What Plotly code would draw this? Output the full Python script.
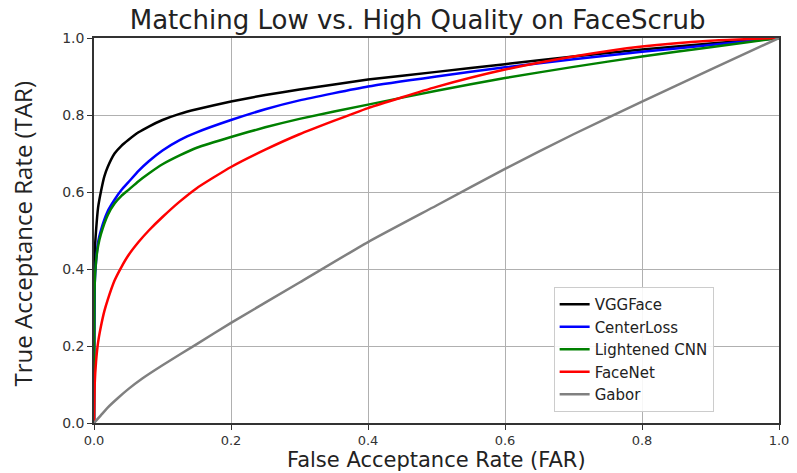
import plotly.graph_objects as go

far_vgg = [0.0, 0.001, 0.003, 0.006, 0.01, 0.015, 0.02, 0.03, 0.04, 0.05, 0.065, 0.08, 0.1, 0.125, 0.15, 0.2, 0.25, 0.3, 0.4, 0.5, 0.6, 0.7, 0.8, 0.9, 1.0]
tar_vgg = [0.0, 0.44, 0.5, 0.56, 0.6, 0.64, 0.665, 0.7, 0.72, 0.735, 0.755, 0.77, 0.787, 0.803, 0.815, 0.835, 0.852, 0.866, 0.892, 0.912, 0.932, 0.952, 0.97, 0.986, 1.0]

far_center = [0.0, 0.001, 0.003, 0.006, 0.01, 0.02, 0.03, 0.04, 0.05, 0.065, 0.08, 0.1, 0.125, 0.15, 0.2, 0.25, 0.3, 0.4, 0.5, 0.6, 0.7, 0.8, 0.9, 1.0]
tar_center = [0.0, 0.36, 0.42, 0.47, 0.5, 0.55, 0.58, 0.605, 0.625, 0.655, 0.68, 0.708, 0.735, 0.755, 0.787, 0.815, 0.838, 0.874, 0.9, 0.924, 0.945, 0.964, 0.982, 1.0]

far_lcnn = [0.0, 0.001, 0.003, 0.006, 0.01, 0.02, 0.03, 0.04, 0.05, 0.065, 0.08, 0.1, 0.125, 0.15, 0.2, 0.25, 0.3, 0.4, 0.5, 0.6, 0.7, 0.8, 0.9, 1.0]
tar_lcnn = [0.0, 0.36, 0.42, 0.46, 0.49, 0.54, 0.57, 0.59, 0.605, 0.628, 0.648, 0.672, 0.695, 0.715, 0.743, 0.768, 0.79, 0.827, 0.863, 0.896, 0.925, 0.952, 0.976, 1.0]

far_facenet = [0.0, 0.001, 0.003, 0.006, 0.01, 0.015, 0.02, 0.03, 0.04, 0.05, 0.065, 0.08, 0.1, 0.125, 0.15, 0.2, 0.25, 0.3, 0.4, 0.5, 0.6, 0.7, 0.8, 0.9, 1.0]
tar_facenet = [0.0, 0.1, 0.16, 0.21, 0.25, 0.29, 0.32, 0.37, 0.405, 0.435, 0.47, 0.5, 0.535, 0.575, 0.61, 0.665, 0.71, 0.75, 0.818, 0.873, 0.918, 0.952, 0.978, 0.993, 1.0]

far_gabor = [0.0, 0.01, 0.02, 0.035, 0.05, 0.07, 0.1, 0.15, 0.2, 0.3, 0.4, 0.5, 0.6, 0.7, 0.8, 0.9, 1.0]
tar_gabor = [0.0, 0.02, 0.04, 0.065, 0.088, 0.115, 0.15, 0.205, 0.26, 0.365, 0.47, 0.565, 0.66, 0.75, 0.835, 0.918, 1.0]

names = ["VGGFace", "CenterLoss", "Lightened CNN", "FaceNet", "Gabor"]
colors = ["#000000", "#0000ff", "#008000", "#ff0000", "#808080"]
xs = [far_vgg, far_center, far_lcnn, far_facenet, far_gabor]
ys = [tar_vgg, tar_center, tar_lcnn, tar_facenet, tar_gabor]

tick_vals = [0.0, 0.2, 0.4, 0.6, 0.8, 1.0]
tick_text = ["0.0", "0.2", "0.4", "0.6", "0.8", "1.0"]

fig = go.Figure()
for n, c, x, y in zip(names, colors, xs, ys):
    fig.add_trace(go.Scatter(x=x, y=y, mode="lines", name=n,
                             line=dict(color=c, width=2.5, shape="spline", smoothing=0.5)))

axis_common = dict(range=[0, 1], tickvals=tick_vals, ticktext=tick_text,
                   showgrid=True, gridcolor="#b0b0b0", gridwidth=1,
                   showline=True, linecolor="#333333", linewidth=1.5, mirror=True,
                   ticks="outside", ticklen=5, tickcolor="#333333",
                   tickfont=dict(family="DejaVu Sans", size=14, color="#333333"),
                   zeroline=False, automargin=False)

fig.update_layout(
    width=797, height=473,
    margin=dict(l=94, r=18, t=38, b=50),
    paper_bgcolor="white", plot_bgcolor="white",
    title=dict(text="Matching Low vs. High Quality on FaceScrub", x=0.524, xanchor="center",
               y=0.958, yanchor="middle",
               font=dict(family="DejaVu Sans", size=26, color="#222222")),
    xaxis=dict(axis_common, tickfont=dict(family="DejaVu Sans", size=13, color="#333333")),
    yaxis=axis_common,
    legend=dict(x=0.671, y=0.353, xanchor="left", yanchor="top",
                bgcolor="rgba(255,255,255,0.9)", bordercolor="#cccccc", borderwidth=1,
                font=dict(family="DejaVu Sans", size=15, color="#222222"),
                tracegroupgap=0),
    showlegend=True,
    annotations=[
        dict(text="False Acceptance Rate (FAR)", xref="paper", yref="paper",
             x=0.5, y=-0.132, xanchor="center", yanchor="bottom", showarrow=False,
             font=dict(family="DejaVu Sans", size=21, color="#222222")),
        dict(text="True Acceptance Rate (TAR)", xref="paper", yref="paper",
             x=-0.105, y=0.49, xanchor="center", yanchor="middle", showarrow=False,
             textangle=-90,
             font=dict(family="Liberation Sans Narrow, Open Sans", size=24, color="#222222")),
    ],
)

fig.write_html("out.html")
